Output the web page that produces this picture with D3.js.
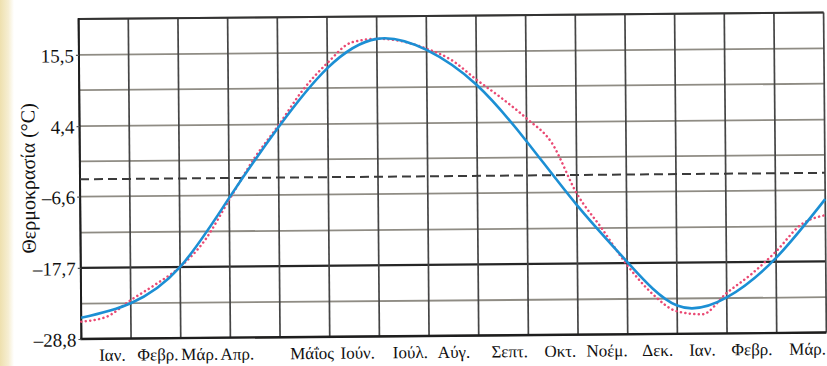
<!DOCTYPE html>
<html><head><meta charset="utf-8">
<script src="https://cdn.jsdelivr.net/npm/d3@7"></script>
<style>html,body{margin:0;padding:0;background:#fff;}svg{display:block;}</style>
</head><body>
<svg id="chart" width="827" height="366"></svg>
<script>
// ---- data ----
const monthLabels = ["Ιαν.","Φεβρ.","Μάρ.","Απρ.","Μάΐος","Ιούν.","Ιούλ.","Αύγ.","Σεπτ.","Οκτ.","Νοέμ.","Δεκ.","Ιαν.","Φεβρ.","Μάρ."];
const yTickValues = [15.5, 4.4, -6.6, -17.7, -28.8];
const yTickLabels = ["15,5", "4,4", "–6,6", "–17,7", "–28,8"];
const yGridValues = [-28.8, -23.3, -17.7, -12.2, -6.6, -1.1, 4.4, 10.0, 15.5, 21.1];
const xGridMonths = [0,1,2,3,4,5,6,7,8,9,10,11,12,13,14,15];
// smooth (model) curve
const smoothMonths = [0,1,2,3,4,5,6,7,8,9,10,11,12,13,14,15];
const smoothTemps  = [-25.5,-23.3,-17.7,-7.0,3.9,13.1,17.6,15.8,10.3,1.4,-8.6,-17.5,-24.4,-23.2,-17.1,-8.0];
// measured (dotted) curve
const measuredMonths = [0,0.5,1,1.5,2,2.5,3,3.5,4,4.5,5,5.5,6,6.5,7,7.5,8,8.5,9,9.5,10,10.5,11,11.5,12,12.5,13,13.5,14,14.5,15];
const measuredTemps  = [-26.1,-25.4,-22.8,-20.4,-17.7,-13.6,-7.3,-1.0,4.2,9.7,13.9,17.1,17.6,17.2,16.0,14.2,11.1,8.2,5.0,1.2,-6.8,-12.3,-18.0,-22.5,-25.3,-25.8,-22.5,-19.6,-16.1,-12.0,-10.5];
// mean (dashed) line
const meanMonths = [0, 15];
const meanTemps  = [-3.9, -3.9];
const freezeLine = -17.7;

// ---- layout ----
const W = 827, H = 366;
const mLeft = 80, mRight = 825, mTop = 19, mBottom = 339;
const labelNudge = [6,2,-6,-18,7,3,6,0,6,7,4,5,0,0,6];
const serif = "'Liberation Serif', 'DejaVu Serif', serif";

const svg = d3.select("#chart");
const defs = svg.append("defs");
const grad = defs.append("linearGradient").attr("id","paper").attr("x1","0").attr("x2","1");
grad.append("stop").attr("offset","0").attr("stop-color","#eee0ae");
grad.append("stop").attr("offset","0.6").attr("stop-color","#f6eed2");
grad.append("stop").attr("offset","1").attr("stop-color","#ffffff");
svg.append("rect").attr("x",0).attr("y",0).attr("width",14).attr("height",H).attr("fill","url(#paper)");

const g = svg.append("g").attr("transform","rotate(-0.5, 80, 178)");

const x = d3.scaleLinear().domain([0,15]).range([mLeft,mRight]);
const y = d3.scaleLinear().domain([-28.8, 21.1]).range([mBottom, mTop]);

// horizontal grid
g.append("g").selectAll("line").data(yGridValues).join("line")
  .attr("x1", x(0)).attr("x2", x(15))
  .attr("y1", d => y(d)).attr("y2", d => y(d))
  .attr("stroke", d => (d === freezeLine) ? "#262626" : "#8f8c84")
  .attr("stroke-width", d => (d === freezeLine) ? 2.2 : 1.8);

// vertical grid
g.append("g").selectAll("line").data(xGridMonths).join("line")
  .attr("x1", d => x(d)).attr("x2", d => x(d))
  .attr("y1", y(21.1)).attr("y2", y(-28.8))
  .attr("stroke", "#454545").attr("stroke-width", 1.7);

// borders
g.append("line").attr("x1",x(0)).attr("x2",x(15)).attr("y1",y(21.1)).attr("y2",y(21.1)).attr("stroke","#333").attr("stroke-width",2);
g.append("line").attr("x1",x(0)-1).attr("x2",x(15)).attr("y1",y(-28.8)).attr("y2",y(-28.8)).attr("stroke","#1e1e1e").attr("stroke-width",2.3);
g.append("line").attr("x1",x(0)).attr("x2",x(0)).attr("y1",y(21.1)-1).attr("y2",y(-28.8)+1).attr("stroke","#1e1e1e").attr("stroke-width",2);

// dashed mean line
g.append("path")
  .datum(meanMonths.map((m,i)=>[m, meanTemps[i]]))
  .attr("d", d3.line().x(d=>x(d[0])).y(d=>y(d[1])))
  .attr("fill","none").attr("stroke","#3a3a3a").attr("stroke-width",2)
  .attr("stroke-dasharray","9,5");

// measured dotted curve
g.append("path")
  .datum(measuredMonths.map((m,i)=>[m, measuredTemps[i]]))
  .attr("d", d3.line().x(d=>x(d[0])).y(d=>y(d[1])).curve(d3.curveMonotoneX))
  .attr("fill","none").attr("stroke","#ea4a74").attr("stroke-width",2.5)
  .attr("stroke-linecap","round").attr("stroke-dasharray","0.1,4.4");

// smooth curve
g.append("path")
  .datum(smoothMonths.map((m,i)=>[m, smoothTemps[i]]))
  .attr("d", d3.line().x(d=>x(d[0])).y(d=>y(d[1])).curve(d3.curveNatural))
  .attr("fill","none").attr("stroke","#1c8fd4").attr("stroke-width",2.6);

// y axis labels
const yAxis = d3.axisLeft(y).tickValues(yTickValues)
  .tickFormat((d,i) => yTickLabels[i]).tickSize(3).tickPadding(2);
const ya = g.append("g").attr("transform",`translate(${mLeft},0)`).call(yAxis);
ya.select(".domain").remove();
ya.selectAll(".tick line").attr("stroke","#555").attr("stroke-width",1.2);
ya.selectAll(".tick text").attr("font-family", serif)
  .attr("font-size","19px").attr("fill","#111").attr("dy","0.36em");

// month labels
g.append("g").selectAll("text").data(monthLabels).join("text")
  .attr("x", (d,i) => x(i + 0.5) + labelNudge[i])
  .attr("y", 361)
  .attr("text-anchor","middle")
  .attr("font-family", serif)
  .attr("font-size","17px").attr("fill","#111")
  .text(d => d);

// y title
g.append("text")
  .attr("transform","translate(35,178) rotate(-90)")
  .attr("text-anchor","middle")
  .attr("font-family", serif)
  .attr("font-size","20px").attr("fill","#111")
  .text("Θερμοκρασία (°C)");
</script>
</body></html>
